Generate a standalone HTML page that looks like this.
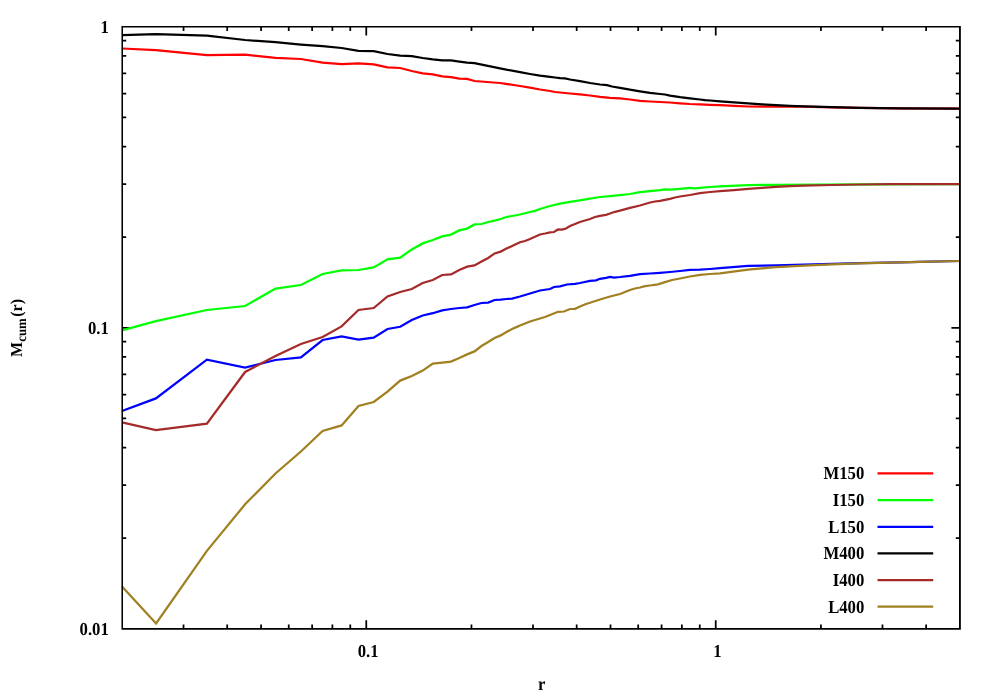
<!DOCTYPE html>
<html lang="en"><head><meta charset="utf-8"><title>Mcum(r)</title>
<style>html,body{margin:0;padding:0;background:#fff;width:1000px;height:700px;overflow:hidden}
body{font-family:"Liberation Serif",serif}</style></head>
<body>
<svg width="1000" height="700" viewBox="0 0 1000 700" style="position:absolute;left:0;top:0">
<rect x="0" y="0" width="1000" height="700" fill="#fff"/>
<path d="M183.54 628.75v-4.2M183.54 26.80v4.2M227.20 628.75v-4.2M227.20 26.80v4.2M261.07 628.75v-4.2M261.07 26.80v4.2M288.74 628.75v-4.2M288.74 26.80v4.2M312.13 628.75v-4.2M312.13 26.80v4.2M332.40 628.75v-4.2M332.40 26.80v4.2M350.28 628.75v-4.2M350.28 26.80v4.2M366.27 628.75v-8.6M366.27 26.80v8.6M471.47 628.75v-4.2M471.47 26.80v4.2M533.00 628.75v-4.2M533.00 26.80v4.2M576.67 628.75v-4.2M576.67 26.80v4.2M610.53 628.75v-4.2M610.53 26.80v4.2M638.20 628.75v-4.2M638.20 26.80v4.2M661.60 628.75v-4.2M661.60 26.80v4.2M681.87 628.75v-4.2M681.87 26.80v4.2M699.74 628.75v-4.2M699.74 26.80v4.2M715.73 628.75v-8.6M715.73 26.80v8.6M820.93 628.75v-4.2M820.93 26.80v4.2M882.47 628.75v-4.2M882.47 26.80v4.2M926.13 628.75v-4.2M926.13 26.80v4.2M122.00 538.15h4.2M960.00 538.15h-4.2M122.00 485.15h4.2M960.00 485.15h-4.2M122.00 447.54h4.2M960.00 447.54h-4.2M122.00 418.38h4.2M960.00 418.38h-4.2M122.00 394.55h4.2M960.00 394.55h-4.2M122.00 374.40h4.2M960.00 374.40h-4.2M122.00 356.94h4.2M960.00 356.94h-4.2M122.00 341.55h4.2M960.00 341.55h-4.2M122.00 327.77h8.6M960.00 327.77h-8.6M122.00 237.17h4.2M960.00 237.17h-4.2M122.00 184.17h4.2M960.00 184.17h-4.2M122.00 146.57h4.2M960.00 146.57h-4.2M122.00 117.40h4.2M960.00 117.40h-4.2M122.00 93.57h4.2M960.00 93.57h-4.2M122.00 73.42h4.2M960.00 73.42h-4.2M122.00 55.97h4.2M960.00 55.97h-4.2M122.00 40.57h4.2M960.00 40.57h-4.2" stroke="#000" stroke-width="1.75" fill="none"/>
<path d="M122.0 48.5 L155.9 50.2 L206.9 55.2 L245.1 54.6 L275.5 57.9 L300.9 59.0 L322.6 62.6 L341.6 64.2 L358.5 63.4 L373.7 64.4 L387.5 67.4 L400.2 68.0 L411.8 71.0 L422.7 73.4 L432.8 74.4 L442.2 76.4 L451.0 77.2 L459.3 78.6 L467.1 78.8 L474.5 81.0 L500.0 83.0 L520.0 86.0 L530.0 87.7 L540.0 89.5 L550.0 91.0 L555.0 92.0 L560.0 92.5 L570.0 93.5 L580.0 94.3 L590.0 95.5 L600.0 96.8 L610.0 97.8 L620.0 98.4 L630.0 99.5 L640.0 100.8 L650.0 101.5 L660.0 102.0 L670.0 102.5 L680.0 103.3 L690.0 104.0 L700.0 104.3 L710.0 104.8 L720.0 105.2 L734.0 105.9 L748.0 106.5 L762.0 106.7 L776.0 106.7 L790.0 106.6 L804.0 106.7 L832.0 107.3 L860.0 107.9 L900.0 108.4 L960.0 108.7" stroke="#ff0000" stroke-width="2.25" fill="none" stroke-linejoin="miter" stroke-miterlimit="10" stroke-linecap="butt"/>
<path d="M122.0 330.3 L155.9 321.1 L206.9 310.0 L245.1 306.0 L275.5 288.6 L300.9 285.0 L322.6 274.0 L341.6 270.4 L358.5 270.0 L373.7 267.4 L387.5 259.4 L400.2 257.6 L411.8 249.4 L422.7 243.4 L432.8 240.0 L442.2 236.4 L451.0 234.6 L459.3 230.4 L467.1 228.6 L474.5 224.4 L481.5 224.0 L488.2 222.0 L494.6 220.6 L500.7 219.0 L506.5 217.0 L512.1 216.0 L520.0 214.5 L530.0 212.0 L535.0 210.8 L540.0 209.0 L550.0 206.0 L560.0 203.7 L570.0 201.8 L580.0 200.3 L590.0 198.7 L600.0 197.0 L610.0 196.2 L620.0 195.2 L630.0 194.0 L640.0 192.2 L650.0 191.2 L660.0 190.2 L665.0 189.3 L670.0 189.7 L680.0 188.8 L690.0 188.0 L695.0 188.3 L700.0 187.8 L710.0 187.0 L720.0 186.4 L748.0 185.2 L776.0 184.8 L820.0 184.6 L870.0 184.3 L960.0 184.0" stroke="#00ff00" stroke-width="2.25" fill="none" stroke-linejoin="miter" stroke-miterlimit="10" stroke-linecap="butt"/>
<path d="M122.0 411.0 L155.9 398.4 L206.9 359.6 L245.1 367.6 L275.5 360.0 L300.9 357.4 L322.6 340.0 L341.6 336.4 L358.5 339.6 L373.7 337.6 L387.5 329.0 L400.2 326.8 L411.8 320.0 L422.7 315.5 L432.8 313.2 L442.2 310.3 L451.0 309.0 L459.3 308.0 L467.1 307.4 L474.5 305.0 L481.5 303.0 L488.2 302.6 L494.6 300.0 L500.7 299.6 L506.5 299.0 L512.1 298.6 L520.0 296.5 L530.0 293.5 L540.0 290.5 L550.0 289.0 L554.0 287.0 L560.0 286.3 L567.0 284.5 L575.0 283.8 L580.0 283.0 L590.0 280.8 L596.0 280.3 L600.0 278.8 L606.0 277.8 L610.0 276.8 L614.0 277.5 L620.0 277.0 L630.0 275.8 L640.0 274.2 L650.0 273.5 L660.0 272.8 L670.0 272.0 L680.0 271.0 L690.0 269.8 L700.0 269.7 L710.0 269.0 L720.0 268.2 L748.0 265.9 L776.0 265.4 L804.0 264.7 L832.0 263.8 L860.0 263.1 L900.0 262.3 L930.0 261.6 L960.0 261.0" stroke="#0000ff" stroke-width="2.25" fill="none" stroke-linejoin="miter" stroke-miterlimit="10" stroke-linecap="butt"/>
<path d="M122.0 35.2 L155.9 34.2 L206.9 35.6 L245.1 40.0 L275.5 42.2 L300.9 44.6 L322.6 46.2 L341.6 48.0 L358.5 50.8 L373.7 51.2 L387.5 54.0 L400.2 55.6 L411.8 56.2 L422.7 58.0 L432.8 59.4 L442.2 60.4 L451.0 60.4 L459.3 61.6 L467.1 62.6 L474.5 63.2 L500.0 68.4 L520.0 72.2 L530.0 74.0 L540.0 75.7 L550.0 76.8 L555.0 77.5 L560.0 78.2 L565.0 78.3 L570.0 79.5 L580.0 81.2 L590.0 83.0 L600.0 84.5 L607.0 85.2 L612.0 86.5 L620.0 87.8 L630.0 89.7 L640.0 91.3 L650.0 92.8 L660.0 94.0 L665.0 94.5 L670.0 95.7 L680.0 97.2 L690.0 98.3 L700.0 99.5 L705.0 100.2 L710.0 100.5 L720.0 101.3 L734.0 102.4 L748.0 103.4 L762.0 104.3 L776.0 105.1 L790.0 105.8 L804.0 106.4 L832.0 107.2 L860.0 107.9 L900.0 108.4 L960.0 108.7" stroke="#000000" stroke-width="2.25" fill="none" stroke-linejoin="miter" stroke-miterlimit="10" stroke-linecap="butt"/>
<path d="M122.0 422.4 L155.9 430.0 L206.9 423.6 L245.1 372.0 L275.5 356.0 L300.9 344.0 L322.6 337.0 L341.6 326.4 L358.5 310.0 L373.7 308.0 L387.5 296.4 L400.2 292.0 L411.8 289.0 L422.7 283.0 L432.8 280.0 L442.2 275.0 L451.0 274.4 L459.3 270.0 L467.1 266.6 L474.5 265.4 L481.5 261.6 L488.2 258.0 L494.6 253.4 L500.7 251.6 L506.5 248.6 L512.1 246.0 L520.0 242.2 L525.0 241.0 L530.0 239.0 L540.0 234.5 L545.0 233.5 L550.0 232.3 L554.0 232.0 L558.0 229.5 L562.0 229.7 L566.0 228.5 L570.0 226.0 L580.0 222.0 L590.0 219.0 L595.0 217.0 L600.0 215.8 L606.0 214.8 L610.0 213.5 L615.0 211.8 L620.0 210.6 L630.0 207.8 L640.0 205.5 L645.0 204.0 L650.0 202.5 L655.0 201.5 L660.0 200.8 L665.0 199.8 L670.0 198.8 L675.0 197.5 L680.0 196.5 L690.0 195.0 L700.0 193.2 L710.0 192.0 L720.0 191.2 L734.0 190.1 L748.0 188.9 L762.0 187.8 L776.0 186.8 L790.0 186.2 L804.0 185.7 L832.0 185.0 L860.0 184.5 L890.0 184.2 L960.0 184.0" stroke="#a52a2a" stroke-width="2.25" fill="none" stroke-linejoin="miter" stroke-miterlimit="10" stroke-linecap="butt"/>
<path d="M122.0 586.6 L156.1 623.5 L206.9 550.9 L245.1 504.3 L275.5 473.5 L300.9 451.5 L322.6 431.0 L341.6 425.4 L358.5 406.0 L373.7 402.0 L387.5 391.6 L400.2 380.6 L411.8 376.0 L422.7 370.6 L432.8 363.6 L442.2 362.6 L451.0 361.6 L459.3 358.0 L467.1 354.4 L474.5 351.4 L481.5 346.0 L488.2 342.0 L494.6 338.0 L500.7 335.4 L506.5 332.0 L512.1 329.0 L517.5 326.6 L520.0 325.5 L530.0 321.5 L540.0 318.5 L545.0 317.0 L550.0 315.0 L558.0 311.8 L564.0 311.5 L570.0 309.0 L575.0 308.8 L580.0 306.5 L586.0 304.0 L590.0 302.8 L600.0 299.5 L610.0 296.5 L620.0 294.0 L630.0 290.0 L635.0 288.5 L640.0 287.5 L645.0 286.2 L650.0 285.5 L658.0 284.3 L665.0 282.2 L672.0 280.0 L680.0 278.5 L690.0 276.5 L700.0 274.8 L710.0 274.0 L720.0 273.3 L735.0 271.4 L748.0 269.7 L762.0 268.3 L776.0 267.2 L790.0 266.4 L804.0 265.7 L832.0 264.4 L860.0 263.4 L900.0 262.4 L930.0 261.6 L960.0 261.0" stroke="#a08020" stroke-width="2.25" fill="none" stroke-linejoin="miter" stroke-miterlimit="10" stroke-linecap="butt"/>
<path fill-rule="evenodd" fill="#000" d="M121.45 26H960.85V629.85H121.45ZM123 27.6H959V628H123Z"/>
<path d="M877.5 473.45H933.2" stroke="#ff0000" stroke-width="2.25" fill="none"/>
<path d="M877.5 500.10H933.2" stroke="#00ff00" stroke-width="2.25" fill="none"/>
<path d="M877.5 526.75H933.2" stroke="#0000ff" stroke-width="2.25" fill="none"/>
<path d="M877.5 553.40H933.2" stroke="#000000" stroke-width="2.25" fill="none"/>
<path d="M877.5 580.05H933.2" stroke="#a52a2a" stroke-width="2.25" fill="none"/>
<path d="M877.5 606.70H933.2" stroke="#a08020" stroke-width="2.25" fill="none"/>
<g font-family="'Liberation Serif', serif" font-weight="bold" font-size="16.7" fill="#000" style="opacity:0.999;text-rendering:geometricPrecision"><text transform="translate(864.30 479.00) scale(1 1.1)" text-anchor="end">M150</text><text transform="translate(864.30 506.00) scale(1 1.1)" text-anchor="end">I150</text><text transform="translate(864.30 533.00) scale(1 1.1)" text-anchor="end">L150</text><text transform="translate(864.30 559.00) scale(1 1.1)" text-anchor="end">M400</text><text transform="translate(864.30 586.00) scale(1 1.1)" text-anchor="end">I400</text><text transform="translate(864.30 613.00) scale(1 1.1)" text-anchor="end">L400</text><text transform="translate(108.80 33.00) scale(1 1.1)" text-anchor="end">1</text><text transform="translate(108.80 334.00) scale(1 1.1)" text-anchor="end">0.1</text><text transform="translate(108.80 635.00) scale(1 1.1)" text-anchor="end">0.01</text><text transform="translate(368.07 657.00) scale(1 1.1)" text-anchor="middle">0.1</text><text transform="translate(717.53 657.00) scale(1 1.1)" text-anchor="middle">1</text><text transform="translate(541.60 690.00) scale(1 1.1)" text-anchor="middle">r</text><text transform="translate(21.8 357) rotate(-90) scale(1 1.06)" font-size="16">M<tspan font-size="12.8" dx="0.2" dy="4.25">cum</tspan><tspan dx="1.5" dy="-4.25">(r)</tspan></text></g>
</svg>
</body></html>
